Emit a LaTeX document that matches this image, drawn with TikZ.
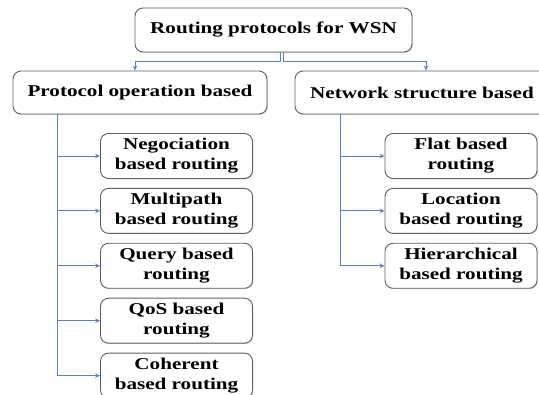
\documentclass[tikz,border=0pt]{standalone}
\usepackage{fontspec}
\setmainfont{Liberation Serif}[FakeStretch=1.28]
\usetikzlibrary{arrows.meta,positioning,shadows}
\definecolor{boxgray}{RGB}{95,95,95}
\definecolor{linkblue}{RGB}{82,130,214}

\begin{document}
\begin{tikzpicture}[
    x=1pt, y=1pt,
    node distance=9pt,
    arr/.style={-{Stealth[length=5pt, width=4.5pt]}, linkblue, line width=0.9pt},
    card/.style={draw=boxgray, fill=white, rounded corners=8pt, line width=0.9pt,
                 drop shadow={shadow xshift=0.8pt, shadow yshift=-0.8pt, opacity=0.35},
                 font=\fontsize{16.5}{20}\selectfont\bfseries, align=center, inner sep=2pt},
    rootbox/.style={card, minimum width=277pt, minimum height=44pt},
    catbox/.style={card, minimum width=254pt, minimum height=43pt},
    leafbox/.style={card, minimum width=152pt, minimum height=45pt},
  ]
    \useasboundingbox (0,0) rectangle (539,-395);
    \clip (0,0) rectangle (539,-395);

    % root and the two families
    \node[rootbox] (root) at (273.5,-30) {Routing protocols for WSN};
    \node[catbox] (opcat) at (140,-92.5) {Protocol operation based};
    \node[catbox] (netcat) at (422,-92.5) {Network structure based};

    \draw[arr] ([xshift=6.5pt]root.south) -- ++(0,-9) -| ([xshift=-5pt]opcat.north);
    \draw[arr] ([xshift=9.5pt]root.south) -- ++(0,-9) -| ([xshift=4pt]netcat.north);

    % protocol operation based
    \node[leafbox] (nego) at (176.5,-156) {Negociation\\based routing};
    \node[leafbox, below=of nego] (multi) {Multipath\\based routing};
    \node[leafbox, below=of multi] (query) {Query based\\routing};
    \node[leafbox, below=of query] (qos) {QoS based\\routing};
    \node[leafbox, below=of qos] (coher) {Coherent\\based routing};

    \foreach \leaf in {nego,multi,query,qos,coher}
      \draw[arr] ([xshift=45pt]opcat.south west) |- (\leaf.west);

    % network structure based
    \node[leafbox] (flat) at (461,-156) {Flat based\\routing};
    \node[leafbox, below=of flat] (loc) {Location\\based routing};
    \node[leafbox, below=of loc] (hier) {Hierarchical\\based routing};

    \foreach \leaf in {flat,loc,hier}
      \draw[arr] ([xshift=46pt]netcat.south west) |- (\leaf.west);
  \end{tikzpicture}
\end{document}
